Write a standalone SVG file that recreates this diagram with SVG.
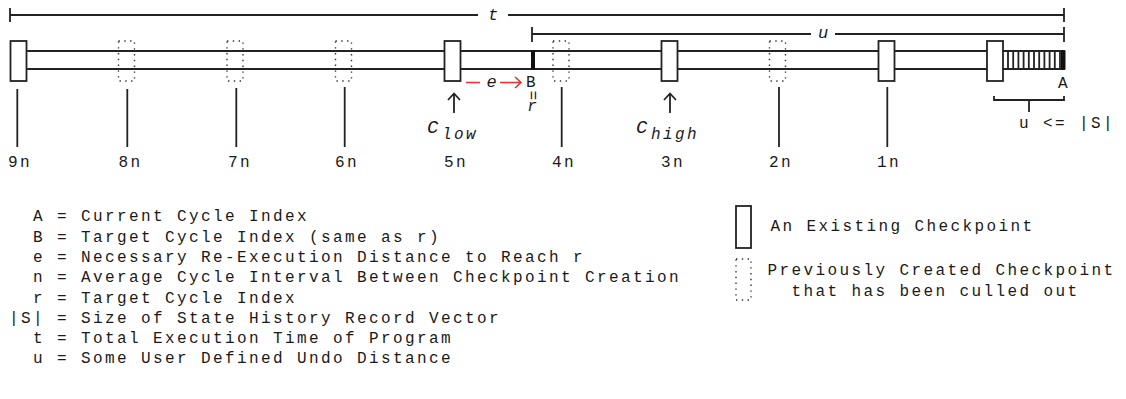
<svg xmlns="http://www.w3.org/2000/svg" width="1126" height="399" viewBox="0 0 1126 399">
<style>
.ln{stroke:#222;stroke-width:1.8;fill:none}
.cp{fill:#fff;stroke:#222;stroke-width:1.8}
.dcp{fill:none;stroke:#333;stroke-width:1.4;stroke-dasharray:1.4 4.4}
.tx{font-family:"Liberation Mono","Courier New",monospace;font-size:16px;letter-spacing:2.4px;fill:#1a1a1a}
.it{font-family:"Liberation Mono","Courier New",monospace;font-style:italic;fill:#1a1a1a}
.red{stroke:#f03030;stroke-width:1.6;fill:none}
</style>
<rect width="1126" height="399" fill="#fff"/>
<g id="connectors">
  <path class="ln" d="M10,8 V22 M10,15 H478 M508,15 H1064 M1064,8 V22"/>
  <path class="ln" d="M532,27 V42 M532,34 H811 M835,34 H1064 M1064,27 V42"/>
  <path class="ln" d="M18,51 H1065 M18,69 H1065"/>
  <path class="ln" stroke-width="1.3" d="M1008,51V69 M1013.2,51V69 M1018.4,51V69 M1023.6,51V69 M1028.8,51V69 M1034,51V69 M1039.2,51V69 M1044.4,51V69 M1049.6,51V69 M1054.8,51V69 M1060,51V69"/>
  <rect x="1061" y="50.5" width="4.5" height="19" fill="#111"/>
  <rect x="531" y="50.5" width="4" height="19" fill="#111"/>
  <path class="ln" d="M17.3,89 V147 M127.3,89 V147 M236.3,88 V147 M344.7,87 V147 M561.7,87 V147 M779,87 V147 M887.3,87 V147"/>
  <path class="ln" d="M454,94 V113 M448,100 L454,93.5 L460,100"/>
  <path class="ln" d="M670,94 V113 M664,100 L670,93.5 L676,100"/>
  <path class="red" d="M466,82.5 H480 M500,82.5 H521 M515,77 L521,82.5 L515,88"/>
  <path class="ln" d="M994,96 V100 H1064 V96 M1029,100 V112"/>
</g>
<g id="cp9n"><rect class="cp" x="10.5" y="41" width="16" height="40"/></g>
<g id="cp8n"><rect class="dcp" x="118.5" y="41" width="16" height="40"/></g>
<g id="cp7n"><rect class="dcp" x="227" y="41" width="16" height="40"/></g>
<g id="cp6n"><rect class="dcp" x="335.5" y="41" width="16" height="40"/></g>
<g id="cp5n"><rect class="cp" x="444.5" y="41" width="16" height="40"/></g>
<g id="cp4n"><rect class="dcp" x="553" y="41" width="16" height="40"/></g>
<g id="cp3n"><rect class="cp" x="661.5" y="41" width="16" height="40"/></g>
<g id="cp2n"><rect class="dcp" x="769.5" y="41" width="16" height="40"/></g>
<g id="cp1n"><rect class="cp" x="878.5" y="41" width="16" height="40"/></g>
<g id="cpLast"><rect class="cp" x="987" y="41" width="16" height="40"/></g>
<g id="labels">
  <text class="it" x="493" y="20" font-size="17" text-anchor="middle">t</text>
  <text class="it" x="823" y="38" font-size="17" text-anchor="middle">u</text>
  <text class="it" x="491.5" y="87" font-size="17" text-anchor="middle">e</text>
  <text class="tx" x="532" y="87" font-size="14" letter-spacing="0" text-anchor="middle">B</text>
  <g transform="translate(532 96.5) rotate(90)">
    <text class="tx" x="0" y="4" font-size="20" letter-spacing="0" text-anchor="middle">=</text>
  </g>
  <text class="it" x="532" y="111" font-size="16" text-anchor="middle">r</text>
  <text class="tx" x="1064" y="88" font-size="13" letter-spacing="0" text-anchor="middle">A</text>
  <text class="it" x="427" y="133" font-size="19">C</text>
  <text class="it" x="442" y="139" font-size="16" letter-spacing="2.4">low</text>
  <text class="it" x="636" y="133" font-size="19">C</text>
  <text class="it" x="651" y="139" font-size="16" letter-spacing="2.4">high</text>
  <text class="tx" x="1019" y="128">u &lt;= |S|</text>
  <text class="tx" x="8" y="167">9n</text>
  <text class="tx" x="118.5" y="167">8n</text>
  <text class="tx" x="228" y="167">7n</text>
  <text class="tx" x="335" y="167">6n</text>
  <text class="tx" x="444" y="167">5n</text>
  <text class="tx" x="552" y="167">4n</text>
  <text class="tx" x="661" y="167">3n</text>
  <text class="tx" x="769" y="167">2n</text>
  <text class="tx" x="877" y="167">1n</text>
</g>
<g id="legend">
  <text class="tx" x="33" y="221">A = Current Cycle Index</text>
  <text class="tx" x="33" y="242">B = Target Cycle Index (same as r)</text>
  <text class="tx" x="33" y="262">e = Necessary Re-Execution Distance to Reach r</text>
  <text class="tx" x="33" y="282">n = Average Cycle Interval Between Checkpoint Creation</text>
  <text class="tx" x="33" y="303">r = Target Cycle Index</text>
  <text class="tx" x="9" y="323">|S| = Size of State History Record Vector</text>
  <text class="tx" x="33" y="343">t = Total Execution Time of Program</text>
  <text class="tx" x="33" y="363">u = Some User Defined Undo Distance</text>
</g>
<g id="legend-key">
  <rect class="cp" x="736" y="206" width="15" height="42"/>
  <text class="tx" x="770.5" y="231">An Existing Checkpoint</text>
  <rect class="dcp" x="736" y="259" width="15" height="41"/>
  <text class="tx" x="767.5" y="275">Previously Created Checkpoint</text>
  <text class="tx" x="791.5" y="296">that has been culled out</text>
</g>
</svg>
